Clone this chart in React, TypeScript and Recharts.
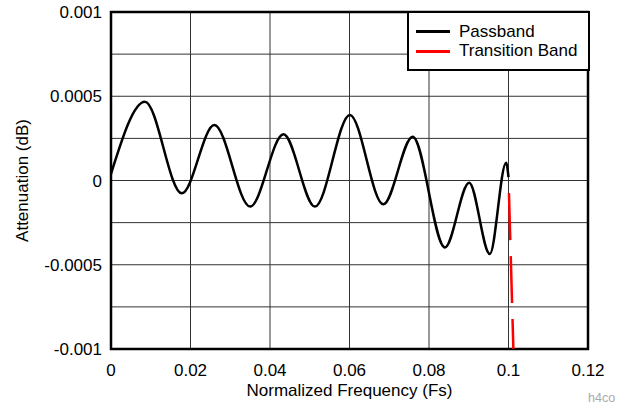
import {
  CartesianGrid,
  Legend,
  Line,
  LineChart,
  ReferenceArea,
  XAxis,
  YAxis,
} from "recharts";

const passFreq = [
  0, 0.00855, 0.0178, 0.026, 0.035, 0.0434, 0.0513, 0.0601, 0.0685, 0.0759,
  0.084, 0.0901, 0.0953, 0.0994, 0.1,
];
const passAtten = [
  0.00004, 0.000468, -0.000076, 0.000329, -0.000155, 0.000274, -0.000155,
  0.000389, -0.000141, 0.00026, -0.000397, -0.000013, -0.000436, 0.000106,
  0.00002,
];

const transFreq = [0.1, 0.10125];
const transAtten = [0.00002, -0.00102];

const xTicks = [0, 0.02, 0.04, 0.06, 0.08, 0.1, 0.12];
const xTickLabels = ["0", "0.02", "0.04", "0.06", "0.08", "0.1", "0.12"];
const yTicks = [
  -0.001, -0.00075, -0.0005, -0.00025, 0, 0.00025, 0.0005, 0.00075, 0.001,
];
const yTickLabels = ["-0.001", "", "-0.0005", "", "0", "", "0.0005", "", "0.001"];

const passband = passFreq.map((f, i) => ({ f, a: passAtten[i] }));
const transition = transFreq.map((f, i) => ({ f, a: transAtten[i] }));

const font = "'Liberation Sans', Arial, Helvetica, sans-serif";
const tickStyle = { fontSize: 17, fill: "#000", fontFamily: font };

function LegendBox({ payload }: any) {
  return (
    <div
      style={{
        boxSizing: "border-box",
        width: 183,
        height: 60,
        border: "2.5px solid #000",
        background: "#fff",
        paddingTop: 9,
        fontFamily: font,
        fontSize: 17,
        color: "#000",
      }}
    >
      {(payload || []).map((p: any) => (
        <div
          key={p.value}
          style={{ display: "flex", alignItems: "center", height: 19.5 }}
        >
          <span
            style={{
              display: "inline-block",
              width: 34,
              height: 3,
              background: p.color,
              marginLeft: 7,
              marginRight: 9,
            }}
          />
          <span>{p.value}</span>
        </div>
      ))}
    </div>
  );
}

export default function App() {
  return (
    <div style={{ position: "fixed", left: 0, top: 0, width: 628, height: 408, background: "#fff" }}>
      <LineChart
        width={628}
        height={408}
        margin={{ top: 12, right: 40, bottom: 0, left: 0 }}
      >
        <CartesianGrid stroke="#333" strokeWidth={1} />
        <XAxis
          dataKey="f"
          type="number"
          domain={[0, 0.12]}
          ticks={xTicks}
          tickFormatter={(v: number) => xTickLabels[xTicks.indexOf(v)] ?? ""}
          axisLine={false}
          tickLine={false}
          tickSize={0}
          tickMargin={15}
          height={59}
          tick={tickStyle}
          allowDataOverflow
          label={{
            value: "Normalized Frequency (Fs)",
            position: "insideBottom",
            offset: 12,
            style: { fontSize: 17, fill: "#000", fontFamily: font },
          }}
        />
        <YAxis
          type="number"
          domain={[-0.001, 0.001]}
          ticks={yTicks}
          tickFormatter={(v: number) => yTickLabels[yTicks.indexOf(v)] ?? ""}
          axisLine={false}
          tickLine={false}
          tickSize={0}
          tickMargin={9}
          width={111}
          tick={tickStyle}
          allowDataOverflow
          label={{
            value: "Attenuation (dB)",
            angle: -90,
            position: "insideLeft",
            offset: 22,
            style: {
              fontSize: 17,
              fill: "#000",
              fontFamily: font,
              textAnchor: "middle",
            },
          }}
        />
        <Line
          data={passband}
          dataKey="a"
          name="Passband"
          type="monotone"
          stroke="#000"
          strokeWidth={2.5}
          dot={false}
          isAnimationActive={false}
        />
        <Line
          data={transition}
          dataKey="a"
          name="Transition Band"
          type="linear"
          stroke="#ff0000"
          strokeWidth={2.5}
          strokeDasharray="47 16"
          strokeDashoffset={47}
          dot={false}
          isAnimationActive={false}
        />
        <ReferenceArea
          x1={0}
          x2={0.12}
          y1={-0.001}
          y2={0.001}
          fill="none"
          fillOpacity={0}
          stroke="#000"
          strokeWidth={2.5}
          ifOverflow="visible"
        />
        <Legend
          content={LegendBox}
          layout="horizontal"
          align="center"
          verticalAlign="middle"
          wrapperStyle={{ top: 11, left: 407, width: 183 }}
        />
      </LineChart>
      <div
        style={{
          position: "absolute",
          left: 588,
          top: 391,
          fontFamily: font,
          fontSize: 12.5,
          color: "#aaa",
        }}
      >
        h4co
      </div>
    </div>
  );
}
